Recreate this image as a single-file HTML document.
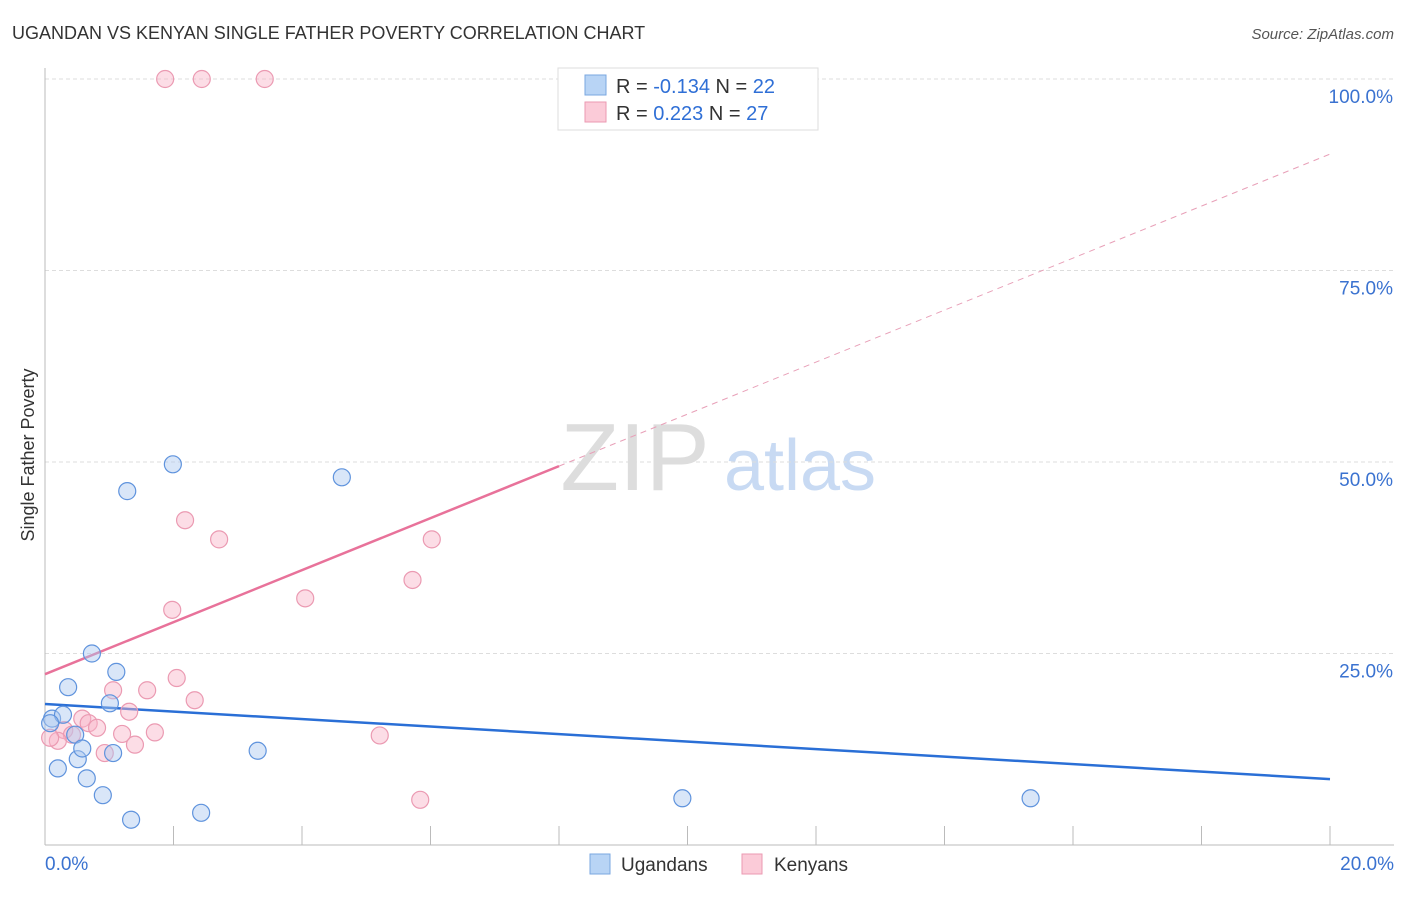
<!DOCTYPE html>
<html><head><meta charset="utf-8"><style>
body{margin:0;background:#fff;font-family:"Liberation Sans",sans-serif;}
svg text{font-family:"Liberation Sans",sans-serif;}
</style></head><body>
<svg id="chart" width="1406" height="892" xmlns="http://www.w3.org/2000/svg">
<text x="12" y="39" font-size="18" fill="#333">UGANDAN VS KENYAN SINGLE FATHER POVERTY CORRELATION CHART</text>
<text x="1394" y="39" font-size="15" fill="#555" font-style="italic" text-anchor="end">Source: ZipAtlas.com</text>
<text x="34" y="455" font-size="18" fill="#333" text-anchor="middle" transform="rotate(-90 34 455)">Single Father Poverty</text>
<g><text x="635" y="490" font-size="96" fill="#ddd" font-family="Liberation Serif" text-anchor="middle">ZIP</text><text x="800" y="490" font-size="72" fill="#c8daf3" text-anchor="middle">atlas</text></g>
<g id="grid"></g><g id="axes"></g><g id="lines"></g><g id="points"></g>
<g>
<rect x="558" y="68" width="260" height="62" fill="#fff" stroke="#ddd"/>
<rect x="585" y="75" width="21" height="20" fill="#b8d4f5" stroke="#7aa7e0"/>
<text x="616" y="93" font-size="20" fill="#333">R = <tspan fill="#2f6fd6">-0.134</tspan>   N = <tspan fill="#2f6fd6">22</tspan></text>
<rect x="585" y="102" width="21" height="20" fill="#fbcbd8" stroke="#eb9ab2"/>
<text x="616" y="120" font-size="20" fill="#333">R =  <tspan fill="#2f6fd6">0.223</tspan>   N = <tspan fill="#2f6fd6">27</tspan></text>
</g>
<g>
<rect x="590" y="854" width="20" height="20" fill="#b8d4f5" stroke="#7aa7e0"/>
<text x="621" y="871" font-size="19" fill="#333">Ugandans</text>
<rect x="742" y="854" width="20" height="20" fill="#fbcbd8" stroke="#eb9ab2"/>
<text x="774" y="871" font-size="19" fill="#333">Kenyans</text>
</g>
</svg>
<script>
const yTicks=[25,50,75,100];
const yTickLabels=["25.0%","50.0%","75.0%","100.0%"];
const xTickLabels=["0.0%","20.0%"];
const ugX=[0.11,0.28,0.36,0.47,0.51,0.58,0.65,0.2,0.73,0.90,1.01,1.06,1.11,1.28,1.34,1.99,2.43,3.31,4.62,9.92,15.34,0.08];
const ugY=[16.5,17,20.6,14.4,11.2,12.6,8.7,10,25,6.5,18.5,12,22.6,46.2,3.3,49.7,4.2,12.3,48,6.1,6.1,15.9];
const keX=[1.87,2.44,3.42,2.18,2.71,6.02,5.72,4.05,1.98,2.05,1.59,1.06,2.33,1.31,0.58,0.68,0.81,0.3,0.42,1.2,1.71,5.21,0.93,1.4,0.2,0.08,5.84];
const keY=[100,100,100,42.4,39.9,39.9,34.6,32.2,30.7,21.8,20.2,20.2,18.9,17.4,16.5,15.9,15.3,15,14.4,14.5,14.7,14.3,12,13.1,13.6,14,5.9];
const ugLine=[18.4,8.6];
const keLine=[22.3,90.2];
const keSolidEnd=8;
const X=v=>45+v/20*1285, Y=v=>845-v/100*766;
const NS="http://www.w3.org/2000/svg";
function mk(p,t,a){const e=document.createElementNS(NS,t);for(const k in a)e.setAttribute(k,a[k]);document.getElementById(p).appendChild(e);return e;}
yTicks.forEach((t,i)=>{
 const g=mk("grid","line",{x1:45,x2:1394,y1:Y(t),y2:Y(t),stroke:"#ddd","stroke-dasharray":"4,3"});
 
 
 const l=mk("axes","text",{x:1393,y:Y(t)+24,"font-size":19,fill:"#3a72d0","text-anchor":"end"});l.textContent=yTickLabels[i];
 
 
});
mk("axes","line",{x1:45,x2:45,y1:68,y2:845,stroke:"#bbb"});
mk("axes","line",{x1:45,x2:1394,y1:845,y2:845,stroke:"#bbb"});
for(let i=1;i<=10;i++){const t=mk("axes","line",{x1:X(i*2),x2:X(i*2),y1:826,y2:845,stroke:"#bbb"});
 
 }
[[0,"start",45],[20,"end",1394]].forEach((d,i)=>{const l=mk("axes","text",{x:d[2],y:870,"font-size":19,fill:"#3a72d0","text-anchor":d[1]});l.textContent=xTickLabels[i];
 
 });
const ky=x=>keLine[0]+(keLine[1]-keLine[0])*x/20;
let ln=mk("lines","line",{x1:X(0),y1:Y(ugLine[0]),x2:X(20),y2:Y(ugLine[1]),stroke:"#2a6fd6","stroke-width":2.5});


ln=mk("lines","line",{x1:X(0),y1:Y(ky(0)),x2:X(keSolidEnd),y2:Y(ky(keSolidEnd)),stroke:"#e8729a","stroke-width":2.5});


ln=mk("lines","line",{x1:X(keSolidEnd),y1:Y(ky(keSolidEnd)),x2:X(20),y2:Y(ky(20)),stroke:"#e8a0b8","stroke-width":1,"stroke-dasharray":"6,5"});


keX.forEach((x,i)=>{const c=mk("points","circle",{cx:X(x),cy:Y(keY[i]),r:8.5,fill:"rgba(248,180,200,0.45)",stroke:"#eb9ab2","stroke-width":1.2});
 
 });
ugX.forEach((x,i)=>{const c=mk("points","circle",{cx:X(x),cy:Y(ugY[i]),r:8.5,fill:"rgba(170,200,240,0.45)",stroke:"#5f93dd","stroke-width":1.2});
 
 });
</script>
</body></html>
